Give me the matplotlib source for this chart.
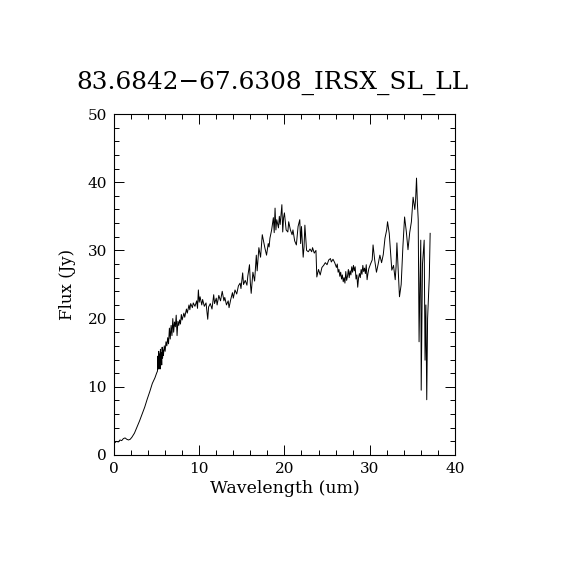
import numpy as np
import matplotlib
matplotlib.use("Agg")
import matplotlib.pyplot as plt
from matplotlib.ticker import MultipleLocator

TITLE = "83.6842\u221267.6308_IRSX_SL_LL"

wavelength = [
    0.1, 0.3, 0.5, 0.7, 0.9, 1.1, 1.3, 1.5, 1.7, 1.9,
    2.1, 2.4, 2.7, 3.0, 3.3, 3.6, 3.9, 4.2, 4.5, 4.8,
    5.0, 5.1, 5.15, 5.2, 5.25, 5.3, 5.35, 5.4, 5.45, 5.5,
    5.55, 5.6, 5.65, 5.7, 5.75, 5.8, 5.9, 6.0, 6.1, 6.2,
    6.3, 6.4, 6.5, 6.6, 6.7, 6.8, 6.9, 7.0, 7.1, 7.2,
    7.3, 7.4, 7.5, 7.6, 7.7, 7.8, 7.9, 8.0, 8.2, 8.3,
    8.5, 8.6, 8.8, 8.9, 9.0, 9.2, 9.3, 9.5, 9.7, 9.8,
    9.9, 10.0, 10.1, 10.3, 10.4, 10.6, 10.8, 11.0, 11.1, 11.3,
    11.5, 11.7, 11.8, 12.0, 12.1, 12.3, 12.5, 12.7, 12.9, 13.0,
    13.2, 13.4, 13.5, 13.7, 13.9, 14.0, 14.2, 14.4, 14.6, 14.8,
    14.9, 15.1, 15.2, 15.4, 15.6, 15.7, 15.9, 16.0, 16.1, 16.3,
    16.5, 16.7, 16.8, 17.0, 17.2, 17.4, 17.6, 17.7, 17.9, 18.1,
    18.2, 18.3, 18.5, 18.7, 18.8, 18.9, 19.0, 19.1, 19.3, 19.4,
    19.5, 19.7, 19.8, 19.9, 20.0, 20.2, 20.4, 20.5, 20.7, 20.9,
    21.0, 21.2, 21.4, 21.6, 21.8, 21.9, 22.0, 22.2, 22.3, 22.4,
    22.6, 22.8, 23.0, 23.2, 23.3, 23.5, 23.7, 23.8, 24.0, 24.2,
    24.4, 24.6, 24.8, 25.0, 25.2, 25.4, 25.5, 25.7, 25.9, 26.1,
    26.2, 26.3, 26.4, 26.5, 26.6, 26.7, 26.8, 26.9, 27.0, 27.1,
    27.2, 27.3, 27.4, 27.5, 27.6, 27.7, 27.8, 27.9, 28.0, 28.1,
    28.2, 28.3, 28.4, 28.5, 28.6, 28.7, 28.8, 28.9, 29.0, 29.1,
    29.2, 29.3, 29.4, 29.5, 29.6, 29.7, 29.8, 29.9,
    30.1, 30.3, 30.4, 30.6, 30.8, 31.0, 31.2, 31.4, 31.6,
    31.8, 32.0, 32.1, 32.3, 32.5, 32.6, 32.8, 33.0, 33.1, 33.2,
    33.4, 33.5, 33.7, 33.9, 34.1, 34.3, 34.5, 34.7, 34.9, 35.1,
    35.3, 35.4, 35.5, 35.6, 35.7, 35.8, 35.9, 36.0, 36.05, 36.2,
    36.4, 36.5, 36.6, 36.7, 36.8, 37.0, 37.1,
]

flux = [
    1.8, 2.0, 1.9, 2.2, 2.1, 2.4, 2.5, 2.3, 2.2, 2.3,
    2.6, 3.2, 4.1, 5.0, 6.0, 7.0, 8.2, 9.3, 10.5, 11.3,
    12.0, 12.3, 14.5, 12.6, 15.2, 12.8, 14.8, 12.6, 15.5, 13.6,
    15.0, 13.2, 15.8, 14.2, 15.4, 14.6, 16.0, 15.2, 16.6, 16.0,
    17.2, 16.3, 18.6, 17.0, 19.0, 17.5, 20.0, 18.0, 19.5, 18.8,
    20.5, 17.5, 19.6, 19.0, 19.8, 19.2, 20.6, 19.8, 20.8, 20.2,
    21.4, 20.8, 22.0, 21.3, 22.2, 21.6, 22.3, 21.8, 22.6, 21.5,
    24.2, 22.4, 23.2, 22.0, 22.8, 21.8, 22.3, 19.9, 21.7, 22.2,
    21.4, 23.5, 22.2, 23.0, 22.0, 23.4, 22.6, 24.0, 22.6, 23.1,
    22.0, 22.6, 21.6, 22.8, 23.8, 23.0, 24.2, 23.6, 24.8, 25.2,
    24.4, 26.7, 25.0, 25.6, 24.9, 26.2, 27.9, 25.2, 23.7, 26.8,
    25.5, 29.3, 27.0, 30.4, 29.0, 32.3, 31.0, 30.4, 29.3, 31.0,
    30.5, 31.8, 33.0, 34.8, 32.6, 36.2, 33.0, 34.5, 33.3, 35.0,
    33.8, 36.7, 32.7, 34.8, 35.5, 33.0, 32.7, 34.2, 33.0, 32.3,
    33.0, 31.4, 30.8, 33.5, 34.5, 31.0, 33.5, 29.0, 30.5, 33.7,
    30.0, 29.8, 30.2, 29.8, 30.4, 29.6, 30.0, 26.1, 27.2, 26.4,
    27.5, 27.8, 28.2, 27.9, 28.6, 28.8, 28.3, 28.7, 28.2, 27.5,
    28.0, 26.8, 27.2, 26.2, 26.8, 25.8, 26.4, 25.4, 26.0, 25.2,
    26.9, 25.6, 26.2, 27.2, 26.0, 27.0, 26.4, 27.6, 26.8, 27.8,
    27.0, 27.6, 25.8, 26.4, 24.6, 26.0, 26.6, 26.0, 27.2, 26.5,
    27.8, 26.9, 27.4, 26.6, 27.9, 25.7, 26.6, 27.3,
    28.0, 28.6, 30.8, 28.5, 26.8, 28.0, 29.3, 28.2, 29.4,
    31.8, 33.0, 34.2, 32.5, 28.8, 27.1, 27.8, 25.7, 27.6, 31.1,
    26.0, 23.2, 25.0, 30.5, 34.9, 32.8, 30.1, 32.6, 34.2, 37.8,
    36.0, 37.6, 40.6, 37.0, 34.5, 16.6, 25.0, 31.5, 9.5, 28.0,
    31.5, 13.9, 22.0, 8.1, 20.0, 26.1, 32.5,
]

plt.rcParams["font.family"] = ["DejaVu Serif"]

fig = plt.figure(figsize=(5.7, 5.7), dpi=100)
ax = fig.add_axes([0.2, 0.2018, 0.598, 0.5982])

ax.plot(wavelength, flux, color="black", linewidth=0.7)

ax.set_xlim(0, 40)
ax.set_ylim(0, 50)
ax.xaxis.set_major_locator(MultipleLocator(10))
ax.xaxis.set_minor_locator(MultipleLocator(2))
ax.yaxis.set_major_locator(MultipleLocator(10))
ax.yaxis.set_minor_locator(MultipleLocator(2))
ax.tick_params(which="both", direction="in", top=True, right=True,
               width=0.7, labelsize=11, pad=5)
ax.tick_params(which="major", length=7)
ax.tick_params(which="minor", length=3.5)
for sp in ax.spines.values():
    sp.set_linewidth(0.8)

ax.set_xlabel("Wavelength (um)", fontsize=12.5, labelpad=3)
ax.set_ylabel("Flux (Jy)", fontsize=12, labelpad=8)
ax.set_title(TITLE, fontsize=17.8, pad=18, x=0.465)

fig.savefig("out.png", dpi=100, facecolor="white")
